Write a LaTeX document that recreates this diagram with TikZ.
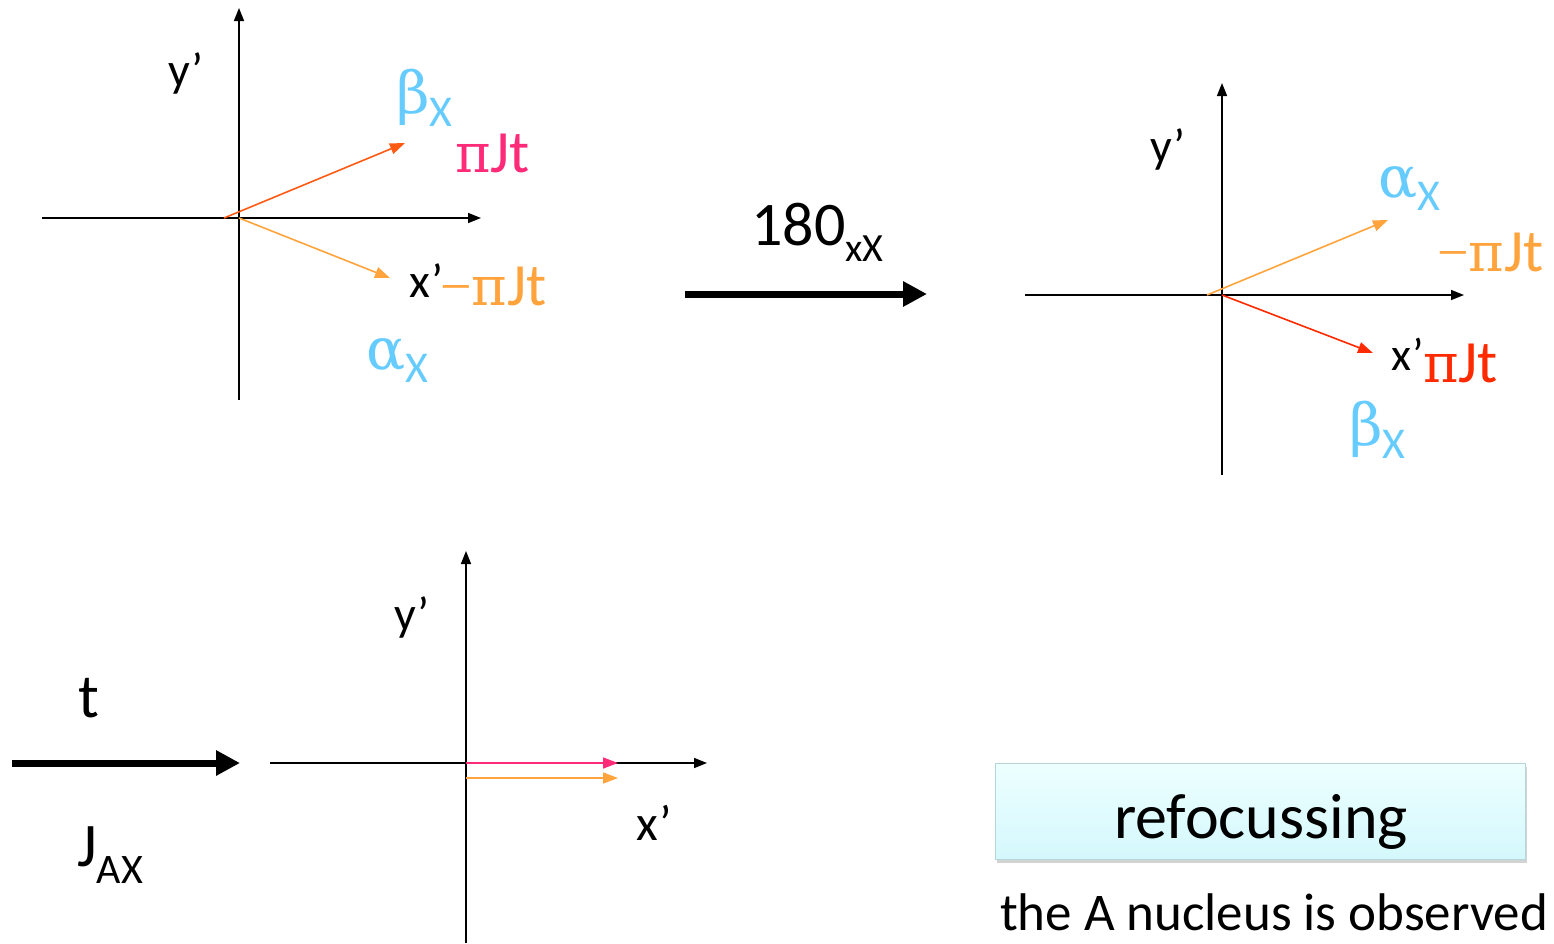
\documentclass[tikz,border=0pt]{standalone}
\usepackage{fontspec}
\setmainfont{Carlito}
\newfontfamily\grk{DejaVu Serif}
\newfontfamily\mns{Liberation Serif}
\usetikzlibrary{arrows.meta,shadows}
\definecolor{cyanl}{HTML}{66CCFF}
\definecolor{orA}{HTML}{FFA33C}
\definecolor{orR}{HTML}{FF5A14}
\definecolor{mag}{HTML}{FF2A78}
\definecolor{redR}{HTML}{FF2A00}
\definecolor{boxtop}{HTML}{EDFFFF}
\definecolor{boxbot}{HTML}{D4F8FC}
\definecolor{boxline}{HTML}{B5D5D8}
\newcommand{\fsz}[1]{\fontsize{#1}{#1}\selectfont}
\newcommand{\subX}[3]{\raisebox{#1}{\fsz{#2}#3}}
\newcommand{\pjt}{{\grk\fsz{54}π}\fsz{60}Jt}
\newcommand{\mpjt}{{\mns\fsz{56}−}{\grk\fsz{54}π}\fsz{60}Jt}
\begin{document}
\begin{tikzpicture}[x=1pt,y=-1pt,
  axis/.style={line width=1.6pt,-{Triangle[length=13pt,width=10pt]}},
  vec/.style={line width=1.6pt,-{Triangle[length=15pt,width=11pt]}},
  bigarrow/.style={line width=7pt,-{Triangle[length=24pt,width=24pt]}},
  lbl/.style={inner sep=0pt,anchor=base west},
]
\useasboundingbox (0,0) rectangle (1554,943);

% ---------- panel 1 ----------
\coordinate (p1l) at (42,218);
\coordinate (p1r) at (481,218);
\coordinate (p1b) at (239,400);
\coordinate (p1t) at (239,8);
\coordinate (p1o) at (239,218);
\coordinate (p1s) at (224,218);
\coordinate (p1u) at (405,143);
\coordinate (p1d) at (390,278);
\draw[axis] (p1l) -- (p1r);
\draw[axis] (p1b) -- (p1t);
\draw[vec,orR] (p1s) -- (p1u);
\draw[vec,orA] (p1o) -- (p1d);
\node[lbl] (yp1) at (168,86) {\fsz{48}y’};
\node[lbl,cyanl] (b1) at (396,113) {{\grk\fsz{58}β}\subX{-13pt}{44}{X}};
\node[lbl,mag] (pj1) at (455,172) {\pjt};
\node[lbl] (xp1) at (409,297) {\fsz{48}x’};
\node[lbl,orA] (mpj1) at (440,305) {\mpjt};
\node[lbl,cyanl] (a1) at (366,369) {{\grk\fsz{58}α}\subX{-13pt}{44}{X}};

% ---------- middle arrow ----------
\coordinate (m1) at (685,294);
\coordinate (m2) at (927,294);
\draw[bigarrow] (m1) -- (m2);
\node[lbl] (n180) at (751,245) {\fsz{62}180\subX{-16pt}{40}{xX}};

% ---------- panel 2 ----------
\coordinate (p2l) at (1025,295);
\coordinate (p2r) at (1464,295);
\coordinate (p2b) at (1222,475);
\coordinate (p2t) at (1222,83);
\coordinate (p2o) at (1222,295);
\coordinate (p2s) at (1207,295);
\coordinate (p2u) at (1388,220);
\coordinate (p2d) at (1373,353);
\draw[axis] (p2l) -- (p2r);
\draw[axis] (p2b) -- (p2t);
\draw[vec,orA] (p2s) -- (p2u);
\draw[vec,redR] (p2o) -- (p2d);
\node[lbl] (yp2) at (1150,162) {\fsz{48}y’};
\node[lbl,cyanl] (a2) at (1378,197) {{\grk\fsz{58}α}\subX{-13pt}{44}{X}};
\node[lbl,orA] (mpj2) at (1437,271) {\mpjt};
\node[lbl] (xp2) at (1391,370) {\fsz{46}x’};
\node[lbl,redR] (pj2) at (1423,382) {\pjt};
\node[lbl,cyanl] (b2) at (1349,445) {{\grk\fsz{58}β}\subX{-13pt}{44}{X}};

% ---------- panel 3 ----------
\coordinate (q1) at (12,763);
\coordinate (q2) at (240,763);
\draw[bigarrow] (q1) -- (q2);
\node[lbl] (tt) at (78,717) {\fsz{62}t};
\node[lbl] (jax) at (77,866) {\fsz{62}J\subX{-17pt}{42}{AX}};

\coordinate (p3l) at (270,763);
\coordinate (p3r) at (707,763);
\coordinate (p3b) at (466,943);
\coordinate (p3t) at (466,551);
\coordinate (p3o) at (466,763);
\coordinate (p3e) at (618,763);
\coordinate (p3o2) at (466,778);
\coordinate (p3e2) at (618,778);
\draw[axis] (p3l) -- (p3r);
\draw[axis] (p3b) -- (p3t);
\draw[vec,mag] (p3o) -- (p3e);
\draw[vec,orA] (p3o2) -- (p3e2);
\node[lbl] (yp3) at (394,630) {\fsz{48}y’};
\node[lbl] (xp3) at (636,840) {\fsz{50}x’};

% ---------- box ----------
\node[draw=boxline,line width=1.2pt,top color=boxtop,bottom color=boxbot,
      minimum width=530pt,minimum height=96pt,inner sep=0pt,
      drop shadow={shadow xshift=1pt,shadow yshift=-3pt,opacity=0.35},
      anchor=north west] (box) at (995,763) {};
\node[inner sep=0pt,anchor=base] (ref) at (1261,838) {\fsz{64}refocussing};
\node[inner sep=0pt,anchor=base] (obs) at (1274,930) {\fsz{53}the A nucleus is observed};
\end{tikzpicture}
\end{document}
